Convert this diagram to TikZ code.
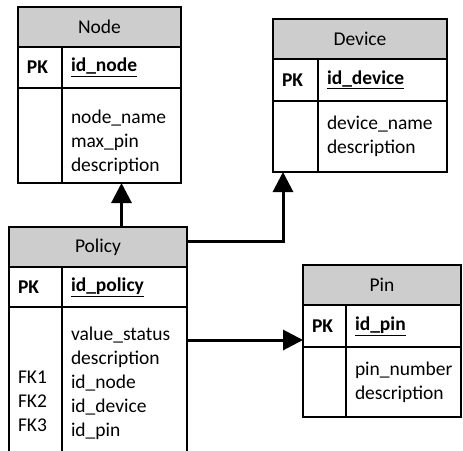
\documentclass[tikz,border=0pt]{standalone}
\usepackage{fontspec}
\setmainfont{Carlito}
\usetikzlibrary{arrows.meta}
\definecolor{hdrGray}{RGB}{205,205,205}

\begin{document}
\begin{tikzpicture}[
  x=1pt,
  y=-1pt,
  every node/.style={font=\fontsize{19.5}{24}\selectfont},
  headcell/.style={
    draw,
    fill=hdrGray,
    line width=1.8pt,
    outer sep=0pt,
    inner sep=0pt,
    minimum height=40,
    anchor=north west
  },
  cell/.style={
    draw,
    fill=white,
    line width=1.8pt,
    outer sep=0pt,
    inner xsep=9pt,
    inner ysep=0pt,
    align=left,
    anchor=north west
  },
  link/.style={line width=3pt, -{Triangle[length=20pt,width=20pt]}}
]
  \useasboundingbox (0,0) rectangle (463,450);
  \clip (0,0) rectangle (463,450);

  % Node
  \node[headcell, minimum width=163] (node-head) at (18,7) {Node};
  \node[cell, text width=26, minimum height=41] (node-pk) at (node-head.south west) {\textbf{PK}};
  \node[cell, text width=101, minimum height=41] (node-key) at (node-pk.north east) {\textbf{\underline{id\_node}}};
  \node[cell, text width=26, minimum height=95] (node-fk) at (node-pk.south west) {};
  \node[cell, text width=101, minimum height=95] (node-body) at (node-fk.north east) {\rule{0pt}{27pt}node\_name\\max\_pin\\description};

  % Device
  \node[headcell, minimum width=174] (device-head) at (273,19) {Device};
  \node[cell, text width=27, minimum height=42] (device-pk) at (device-head.south west) {\textbf{PK}};
  \node[cell, text width=111, minimum height=42] (device-key) at (device-pk.north east) {\textbf{\underline{id\_device}}};
  \node[cell, text width=27, minimum height=71] (device-fk) at (device-pk.south west) {};
  \node[cell, text width=111, minimum height=71] (device-body) at (device-fk.north east) {device\_name\\description};

  % Policy
  \node[headcell, minimum width=178] (policy-head) at (9,227) {Policy};
  \node[cell, text width=35, minimum height=40] (policy-pk) at (policy-head.south west) {\textbf{PK}};
  \node[cell, text width=107, minimum height=40] (policy-key) at (policy-pk.north east) {\textbf{\underline{id\_policy}}};
  \node[cell, text width=35, minimum height=153] (policy-fk) at (policy-pk.south west) {\mbox{}\\\mbox{}\\FK1\\FK2\\FK3};
  \node[cell, text width=107, minimum height=153] (policy-body) at (policy-fk.north east) {value\_status\\description\\id\_node\\id\_device\\id\_pin};

  % Pin
  \node[headcell, minimum width=158] (pin-head) at (303,265) {Pin};
  \node[cell, text width=25, minimum height=42] (pin-pk) at (pin-head.south west) {\textbf{PK}};
  \node[cell, text width=97, minimum height=42] (pin-key) at (pin-pk.north east) {\textbf{\underline{id\_pin}}};
  \node[cell, text width=25, minimum height=70] (pin-fk) at (pin-pk.south west) {};
  \node[cell, text width=97, minimum height=70] (pin-body) at (pin-fk.north east) {pin\_number\\description};

  % foreign keys
  \draw[link] (policy-head.north -| node-body.south) -- (node-body.south);
  \draw[link] ([yshift=6pt]policy-head.east) -| ([xshift=10pt]device-fk.south west);
  \coordinate (pinlink) at ([yshift=7pt]pin-pk.south west);
  \draw[link] (pinlink -| policy-body.east) -- (pinlink);
\end{tikzpicture}
\end{document}
